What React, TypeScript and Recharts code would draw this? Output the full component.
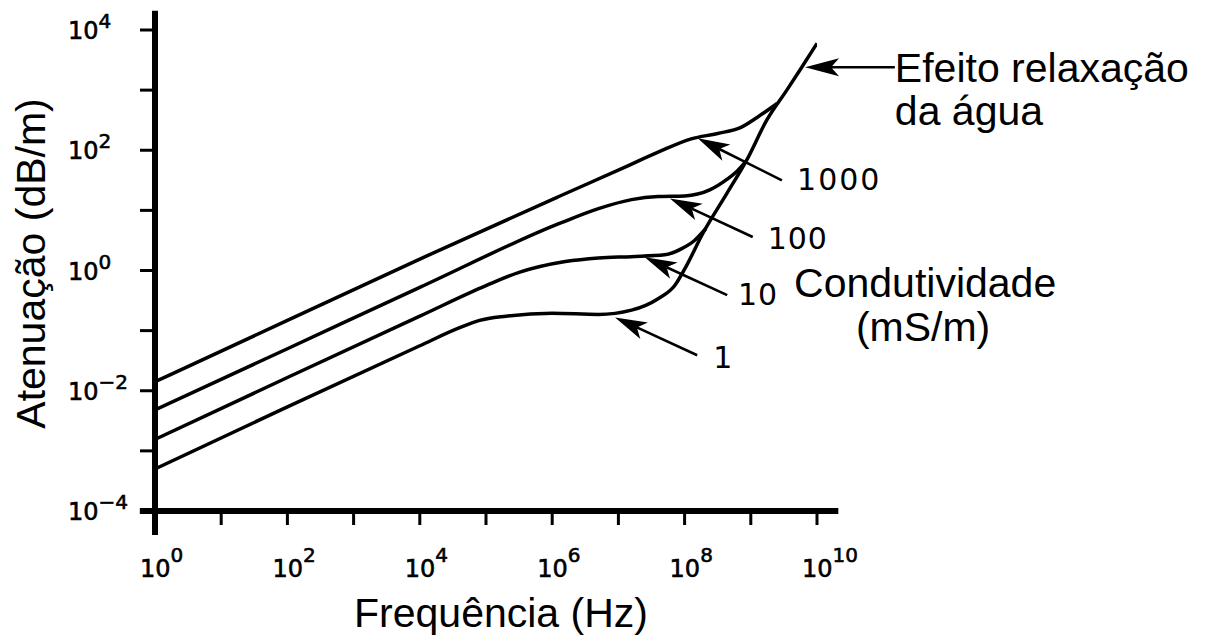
import React from "react"
import { LineChart, Line, XAxis, YAxis, ReferenceLine, ReferenceDot } from "recharts"

// Attenuation (dB/m) vs frequency (Hz), one curve per conductivity (mS/m)
const FREQ_1 = [1, 100, 1e4, 4e4, 8e4, 2e5, 1e6, 5e6, 1.58e7, 3.98e7, 7.1e7, 1e8, 1.9e8, 4.4e8, 8.7e8, 1.74e9, 3.5e9, 5.5e9, 1e10]
const ATT_1 = [5.0e-4, 5.4e-3, 0.056, 0.112, 0.148, 0.174, 0.195, 0.186, 0.219, 0.339, 0.562, 1.05, 4.2, 19.5, 69, 316, 1000, 2140, 6000]

const FREQ_10 = [1, 100, 1e4, 1e5, 3.16e5, 1.58e6, 5e6, 1.58e7, 5e7, 8.9e7, 1.41e8, 2.1e8]
const ATT_10 = [1.55e-3, 0.0166, 0.174, 0.56, 0.93, 1.41, 1.62, 1.7, 1.82, 2.29, 3.16, 5.0]

const FREQ_100 = [1, 100, 1e4, 1.26e6, 5e6, 1.58e7, 3.98e7, 1e8, 2.4e8, 4.4e8, 6.3e8, 8.5e8]
const ATT_100 = [4.8e-3, 0.05, 0.525, 6.0, 10.7, 15.1, 17.0, 17.4, 21.9, 33, 45.7, 66]

const FREQ_1000 = [1, 100, 1e4, 1.26e6, 1.26e7, 3.98e7, 1.26e8, 3.16e8, 7.1e8, 1.26e9, 2.5e9]
const ATT_1000 = [0.0141, 0.148, 1.55, 17.0, 52.5, 93, 155, 190, 240, 355, 600]

const X_TICKS = [1, 10, 100, 1e3, 1e4, 1e5, 1e6, 1e7, 1e8, 1e9, 1e10]
const Y_TICKS = [1e-4, 1e-3, 1e-2, 1e-1, 1, 10, 100, 1e3, 1e4]

const INK = "#000"
const NUM_FONT = "DejaVu Sans"
const TEXT_FONT = "Liberation Sans, Arial, sans-serif"

const toPoints = (f: number[], a: number[]) => f.map((v, i) => ({ f: v, a: a[i] }))

const exponent = (v: number) => Math.round(Math.log10(v))
const expText = (e: number) => (e < 0 ? "\u2212" + Math.abs(e) : String(e))

function XTick({ x, y, payload }: any) {
  const e = exponent(payload.value)
  if (e % 2 !== 0) return <g />
  return (
    <text x={x - 15} y={y + 52} fontFamily={NUM_FONT} fontSize={24} fill={INK} stroke={INK} strokeWidth={0.6}>
      10<tspan dy={-15} fontSize={20}>{expText(e)}</tspan>
    </text>
  )
}

function YTick({ x, y, payload }: any) {
  const e = exponent(payload.value)
  if (e % 2 !== 0) return <g />
  return (
    <text x={x - 72} y={y + 9} fontFamily={NUM_FONT} fontSize={24} fill={INK} stroke={INK} strokeWidth={0.6}>
      10<tspan dy={-11} fontSize={20}>{expText(e)}</tspan>
    </text>
  )
}

// arrow from segment[0] (tail) to segment[1] (tip), with a notched head
function arrowShape(headLen: number) {
  return (props: any) => {
    const { x1, y1, x2, y2 } = props
    const dx = x2 - x1
    const dy = y2 - y1
    const len = Math.hypot(dx, dy) || 1
    const ux = dx / len
    const uy = dy / len
    const nx = -uy
    const ny = ux
    const W = 9
    const notch = 8
    const bx = x2 - ux * headLen
    const by = y2 - uy * headLen
    const mx = x2 - ux * (headLen - notch)
    const my = y2 - uy * (headLen - notch)
    const d = `M${x2},${y2} L${bx + nx * W},${by + ny * W} L${mx},${my} L${bx - nx * W},${by - ny * W} Z`
    return (
      <g>
        <line x1={x1} y1={y1} x2={mx} y2={my} stroke={INK} strokeWidth={2.6} />
        <path d={d} fill={INK} />
      </g>
    )
  }
}

function textShape(lines: string[], opts: { anchor?: string; size: number; family: string; lineGap?: number; spacing?: number; middle?: boolean }) {
  return (props: any) => {
    const { cx, cy } = props
    return (
      <text
        x={cx}
        y={cy}
        textAnchor={opts.anchor || "start"}
        dominantBaseline={opts.middle ? "central" : "alphabetic"}
        fontFamily={opts.family}
        fontSize={opts.size}
        letterSpacing={opts.spacing || 0}
        fill={INK}
      >
        {lines.map((t, i) => (
          <tspan key={i} x={cx} dy={i === 0 ? 0 : opts.lineGap}>
            {t}
          </tspan>
        ))}
      </text>
    )
  }
}

const ARROWS = [
  { tail: [1.5e11, 2400], tip: [6.6e9, 2400], head: 34 },
  { tail: [2.95e9, 31.6], tip: [1.58e8, 158], head: 32 },
  { tail: [1.07e9, 3.6], tip: [6.0e7, 15.8], head: 32 },
  { tail: [4.4e8, 0.39], tip: [2.5e7, 1.66], head: 32 },
  { tail: [1.55e8, 0.039], tip: [8.9e6, 0.166], head: 32 },
]

const NOTES = [
  { x: 1.5e11, y: 1350, lines: ["Efeito relaxação", "da água"], opts: { size: 41, family: TEXT_FONT, lineGap: 43 } },
  { x: 4.3e11, y: 0.36, lines: ["Condutividade"], opts: { size: 41, family: TEXT_FONT, anchor: "middle" } },
  { x: 4.0e11, y: 0.068, lines: ["(mS/m)"], opts: { size: 41, family: TEXT_FONT, anchor: "middle" } },
  { x: 5.0e9, y: 33, lines: ["1000"], opts: { size: 30, family: NUM_FONT, middle: true, spacing: 2 } },
  { x: 1.8e9, y: 3.5, lines: ["100"], opts: { size: 30, family: NUM_FONT, middle: true, spacing: 1 } },
  { x: 6.4e8, y: 0.41, lines: ["10"], opts: { size: 30, family: NUM_FONT, middle: true, spacing: 1 } },
  { x: 2.7e8, y: 0.036, lines: ["1"], opts: { size: 30, family: NUM_FONT, middle: true } },
]

const SERIES = [
  { name: "1", data: toPoints(FREQ_1, ATT_1) },
  { name: "10", data: toPoints(FREQ_10, ATT_10) },
  { name: "100", data: toPoints(FREQ_100, ATT_100) },
  { name: "1000", data: toPoints(FREQ_1000, ATT_1000) },
]

export default function App() {
  return (
    <div style={{ position: "absolute", left: 0, top: 0, width: 1207, height: 641, background: "#fff" }}>
      <LineChart width={1207} height={641} margin={{ top: 30, right: 390, bottom: 50, left: 55 }}>
        <XAxis
          dataKey="f"
          type="number"
          scale="log"
          domain={[1, 1e10]}
          allowDataOverflow
          ticks={X_TICKS}
          interval={0}
          height={80}
          axisLine={false}
          tickSize={14}
          tickMargin={0}
          tickLine={{ stroke: INK, strokeWidth: 3 }}
          tick={<XTick />}
          label={(p: any) => {
            const vb = p.viewBox
            return (
              <text x={vb.x + vb.width / 2 + 15} y={vb.y + 116} textAnchor="middle" fontFamily={TEXT_FONT} fontSize={41} fill={INK}>
                Frequência (Hz)
              </text>
            )
          }}
        />
        <YAxis
          dataKey="a"
          type="number"
          scale="log"
          domain={[1e-4, 1e4]}
          allowDataOverflow
          ticks={Y_TICKS}
          interval={0}
          width={100}
          axisLine={false}
          tickSize={15}
          tickMargin={0}
          tickLine={{ stroke: INK, strokeWidth: 3 }}
          tick={<YTick />}
          label={(p: any) => {
            const vb = p.viewBox
            const cx = vb.x - 10
            const cy = vb.y + vb.height / 2 - 7
            return (
              <text x={cx} y={cy} transform={`rotate(-90 ${cx} ${cy})`} textAnchor="middle" fontFamily={TEXT_FONT} fontSize={41} fill={INK}>
                Atenuação (dB/m)
              </text>
            )
          }}
        />
        {SERIES.map((s) => (
          <Line
            key={s.name}
            data={s.data}
            dataKey="a"
            type="monotone"
            stroke={INK}
            strokeWidth={3.5}
            dot={false}
            isAnimationActive={false}
          />
        ))}
        {/* axes drawn a bit past the plot range, as in the original */}
        <ReferenceLine segment={[{ x: 1, y: 4e-5 }, { x: 1, y: 2.1e4 }]} stroke={INK} strokeWidth={6} ifOverflow="visible" />
        <ReferenceLine segment={[{ x: 0.59, y: 1e-4 }, { x: 2.1e10, y: 1e-4 }]} stroke={INK} strokeWidth={6} ifOverflow="visible" />
        {ARROWS.map((a, i) => (
          <ReferenceLine
            key={"arrow" + i}
            segment={[{ x: a.tail[0], y: a.tail[1] }, { x: a.tip[0], y: a.tip[1] }]}
            ifOverflow="visible"
            shape={arrowShape(a.head)}
          />
        ))}
        {NOTES.map((n, i) => (
          <ReferenceDot key={"note" + i} x={n.x} y={n.y} r={0} ifOverflow="visible" shape={textShape(n.lines, n.opts)} />
        ))}
      </LineChart>
    </div>
  )
}
